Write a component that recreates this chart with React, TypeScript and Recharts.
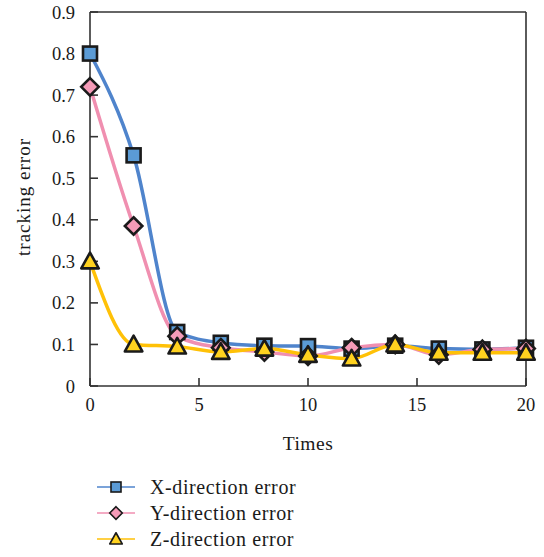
import React from 'react';
import { LineChart, Line, XAxis, YAxis, ReferenceLine } from 'recharts';

const times = [0, 2, 4, 6, 8, 10, 12, 14, 16, 18, 20];
const xError = [0.8, 0.555, 0.13, 0.104, 0.097, 0.096, 0.09, 0.097, 0.09, 0.088, 0.092];
const yError = [0.72, 0.385, 0.12, 0.092, 0.082, 0.072, 0.092, 0.1, 0.075, 0.088, 0.09];
const zError = [0.3, 0.1, 0.095, 0.082, 0.09, 0.075, 0.066, 0.1, 0.08, 0.08, 0.08];
const yTicks = [0, 0.1, 0.2, 0.3, 0.4, 0.5, 0.6, 0.7, 0.8, 0.9];
const xTicks = [0, 5, 10, 15, 20];

const data = times.map((t, i) => ({ t, x: xError[i], y: yError[i], z: zError[i] }));

const FONT = '"Liberation Serif", "DejaVu Serif", serif';
const INK = '#1a1a1a';

const series = [
  { key: 'x', name: 'X-direction error', line: '#4f84cc', fill: '#5b9bd5', shape: 'square' },
  { key: 'y', name: 'Y-direction error', line: '#f08fb0', fill: '#f59bb8', shape: 'diamond' },
  { key: 'z', name: 'Z-direction error', line: '#ffc107', fill: '#ffd21f', shape: 'triangle' },
];

function Marker({ cx, cy, shape, fill, s = 7, sw = 2.6 }: any) {
  if (shape === 'square') {
    return <rect x={cx - s} y={cy - s} width={s * 2} height={s * 2} fill={fill} stroke={INK} strokeWidth={sw} />;
  }
  if (shape === 'diamond') {
    const d = s * 1.25;
    return (
      <polygon
        points={`${cx},${cy - d} ${cx + d},${cy} ${cx},${cy + d} ${cx - d},${cy}`}
        fill={fill}
        stroke={INK}
        strokeWidth={sw}
        strokeLinejoin="miter"
      />
    );
  }
  const h = s * 1.25;
  return (
    <polygon
      points={`${cx},${cy - h} ${cx + h},${cy + h * 0.8} ${cx - h},${cy + h * 0.8}`}
      fill={fill}
      stroke={INK}
      strokeWidth={sw}
      strokeLinejoin="round"
    />
  );
}

function yFmt(v: number) {
  return v === 0 ? '0' : v.toFixed(1);
}

export default function App() {
  return (
    <div style={{ position: 'absolute', left: 0, top: 0, width: 544, height: 557, background: '#fff', fontFamily: FONT }}>
      <LineChart width={544} height={470} data={data} margin={{ top: 12, right: 18, left: 0, bottom: 20 }}>
        <XAxis
          dataKey="t"
          type="number"
          domain={[0, 20]}
          ticks={xTicks}
          height={64}
          tickSize={-8}
          tickMargin={20}
          tick={{ fill: INK, fontSize: 18.5, fontFamily: FONT }}
          axisLine={{ stroke: '#333', strokeWidth: 1.6 }}
          tickLine={{ stroke: '#333', strokeWidth: 1.6 }}
          label={{
            value: 'Times',
            position: 'insideBottom',
            offset: 0,
            fill: INK,
            fontSize: 19.5,
            fontFamily: FONT,
            letterSpacing: 0.5,
          }}
        />
        <YAxis
          type="number"
          domain={[0, 0.9]}
          ticks={yTicks}
          width={90}
          tickSize={-8}
          tickMargin={23}
          tickFormatter={yFmt}
          tick={{ fill: INK, fontSize: 18.5, fontFamily: FONT }}
          axisLine={{ stroke: '#333', strokeWidth: 1.6 }}
          tickLine={{ stroke: '#333', strokeWidth: 1.6 }}
          label={{
            content: (p: any) => {
              const vb = p.viewBox;
              const cx = vb.x + 23;
              const cy = vb.y + vb.height / 2 - 2;
              return (
                <text
                  x={cx}
                  y={cy}
                  transform={`rotate(-90, ${cx}, ${cy})`}
                  textAnchor="middle"
                  dominantBaseline="central"
                  fill={INK}
                  fontSize={19}
                  letterSpacing={1}
                  fontFamily={FONT}
                >
                  tracking error
                </text>
              );
            },
          }}
        />
        <ReferenceLine y={0.9} stroke="#333" strokeWidth={1.6} ifOverflow="extendDomain" />
        <ReferenceLine x={20} stroke="#333" strokeWidth={1.6} ifOverflow="extendDomain" />
        {series.map((s) => (
          <Line
            key={s.key}
            type="monotone"
            dataKey={s.key}
            stroke={s.line}
            strokeWidth={3.5}
            isAnimationActive={false}
            activeDot={false}
            dot={(p: any) => <Marker key={`${s.key}-${p.index}`} cx={p.cx} cy={p.cy} shape={s.shape} fill={s.fill} />}
          />
        ))}
      </LineChart>
      <div style={{ position: 'absolute', left: 96, top: 474 }}>
        {series.map((s) => (
          <div key={s.key} style={{ display: 'flex', alignItems: 'center', height: 26 }}>
            <svg width={40} height={22} style={{ marginRight: 14 }}>
              <line x1={1} y1={11} x2={39} y2={11} stroke={s.line} strokeWidth={1.5} />
              <Marker cx={20} cy={11} shape={s.shape} fill={s.fill} s={5} sw={1.6} />
            </svg>
            <span style={{ fontSize: 20, letterSpacing: 0.6, color: INK, fontFamily: FONT }}>{s.name}</span>
          </div>
        ))}
      </div>
    </div>
  );
}
